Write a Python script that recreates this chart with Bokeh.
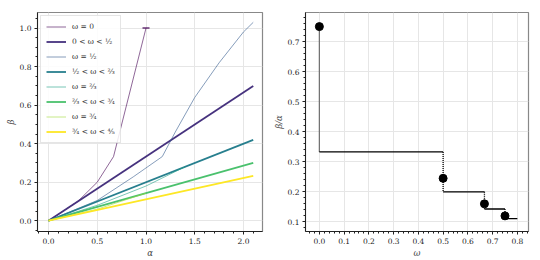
import numpy as np
from bokeh.plotting import figure
from bokeh.layouts import row
from bokeh.models import FixedTicker, Legend, LegendItem, Range1d, NumeralTickFormatter
from bokeh.embed import file_html
from bokeh.resources import INLINE

# ---------------- data (left panel) ----------------
alpha_span = [0.0, 2.1]
beta_w_0_half = [0.0, 0.70]      # 0 < w < 1/2
beta_w_half_23 = [0.0, 0.42]     # 1/2 < w < 2/3
beta_w_23_34 = [0.0, 0.30]       # 2/3 < w < 3/4
beta_w_34_45 = [0.0, 0.233]      # 3/4 < w < 4/5

w0_alpha = [0.0, 0.3, 0.5, 0.667, 1.0]
w0_beta = [0.0, 0.1, 0.2, 0.333, 1.0]
w12_alpha = [0.0, 0.5, 0.87, 1.167, 1.3, 1.5, 1.75, 2.0, 2.1]
w12_beta = [0.0, 0.105, 0.228, 0.333, 0.46, 0.64, 0.82, 0.98, 1.03]
w23_alpha = [0.0, 0.5, 1.0, 1.4]
w23_beta = [0.0, 0.08, 0.18, 0.28]
w34_alpha = [0.0, 0.5, 1.0]
w34_beta = [0.0, 0.06, 0.143]

labels = ["ω = 0", "0 < ω < ½", "ω = ½", "½ < ω < ⅔",
          "ω = ⅔", "⅔ < ω < ¾", "ω = ¾", "¾ < ω < ⅘"]
colors = ["#440154", "#46327e", "#365c8d", "#277f8e",
          "#1fa187", "#4ac16d", "#a0da39", "#fde725"]

# ---------------- data (right panel) ----------------
seg_w0 = [0.0, 0.5, 0.667, 0.75]
seg_w1 = [0.5, 0.667, 0.75, 0.8]
seg_ratio = [0.333, 0.2, 0.143, 0.111]
pt_w = [0.0, 0.5, 0.667, 0.75]
pt_ratio = [0.75, 0.245, 0.16, 0.12]

FONT = "DejaVu Serif"


def style(p, xt, xminor, yt, yminor):
    p.xaxis.ticker = FixedTicker(ticks=xt, minor_ticks=xminor)
    p.yaxis.ticker = FixedTicker(ticks=yt, minor_ticks=yminor)
    for ax in p.axis:
        ax.formatter = NumeralTickFormatter(format="0.0")
        ax.major_label_text_font = FONT
        ax.major_label_text_font_size = "7.5px"
        ax.major_label_text_color = "#222"
        ax.major_tick_in = 0
        ax.major_tick_out = 3
        ax.minor_tick_in = 0
        ax.minor_tick_out = 2
        ax.axis_line_color = "#222"
        ax.major_tick_line_color = "#222"
        ax.minor_tick_line_color = "#222"
        ax.axis_label_text_font = FONT
        ax.axis_label_text_font_style = "italic"
        ax.axis_label_text_font_size = "8.5px"
        ax.axis_label_text_color = "#444"
        ax.axis_label_standoff = 1
        ax.major_label_standoff = 3
    p.grid.grid_line_color = "#e6e6e6"
    p.grid.grid_line_width = 1
    p.outline_line_color = "#888888"
    p.outline_line_width = 1.2
    p.background_fill_color = "white"
    p.border_fill_color = "white"


# ---------------- left figure ----------------
p1 = figure(width=270, height=260, output_backend="svg", toolbar_location=None,
            x_range=Range1d(-0.113, 2.195), y_range=Range1d(-0.056, 1.081),
            min_border_left=37, min_border_right=8, min_border_top=12, min_border_bottom=24)
p1.xaxis.axis_label = "α"
p1.yaxis.axis_label = "β"
style(p1, [0, 0.5, 1.0, 1.5, 2.0], [round(-0.1 + 0.1 * i, 2) for i in range(24)],
      [0, 0.2, 0.4, 0.6, 0.8, 1.0], [round(-0.05 + 0.05 * i, 2) for i in range(24)])

thin_a = 0.6
r0 = p1.line(w0_alpha, w0_beta, line_color=colors[0], line_alpha=thin_a, line_width=1)
cap = p1.dash([w0_alpha[-1]], [w0_beta[-1]], size=7, line_color=colors[0], line_alpha=0.8, line_width=1.5)
r1 = p1.line(alpha_span, beta_w_0_half, line_color=colors[1], line_width=1.8)
r2 = p1.line(w12_alpha, w12_beta, line_color=colors[2], line_alpha=thin_a, line_width=1)
r3 = p1.line(alpha_span, beta_w_half_23, line_color=colors[3], line_width=1.8)
r4 = p1.line(w23_alpha, w23_beta, line_color=colors[4], line_alpha=thin_a, line_width=1)
r5 = p1.line(alpha_span, beta_w_23_34, line_color=colors[5], line_width=1.8)
r6 = p1.line(w34_alpha, w34_beta, line_color=colors[6], line_alpha=thin_a, line_width=1)
r7 = p1.line(alpha_span, beta_w_34_45, line_color=colors[7], line_width=1.8)

rs = [r0, r1, r2, r3, r4, r5, r6, r7]
legend = Legend(items=[LegendItem(label=l, renderers=[r]) for l, r in zip(labels, rs)],
                location="top_left")
legend.label_text_font = FONT
legend.label_text_font_size = "7.5px"
legend.label_text_color = "#333"
legend.label_height = 11
legend.glyph_height = 11
legend.glyph_width = 20
legend.spacing = 4
legend.padding = 5
legend.margin = 3
legend.label_standoff = 6
legend.border_line_color = "#cccccc"
legend.background_fill_alpha = 0.85
p1.add_layout(legend)

# ---------------- right figure ----------------
p2 = figure(width=270, height=260, output_backend="svg", toolbar_location=None,
            x_range=Range1d(-0.056, 0.845), y_range=Range1d(0.068, 0.797),
            min_border_left=32, min_border_right=12, min_border_top=12, min_border_bottom=24)
p2.xaxis.axis_label = "ω"
p2.yaxis.axis_label = "β/α"
style(p2, [round(0.1 * i, 1) for i in range(9)], [round(-0.04 + 0.02 * i, 2) for i in range(47)],
      [round(0.1 + 0.1 * i, 1) for i in range(7)], [round(0.06 + 0.02 * i, 2) for i in range(38)])

v_top = [pt_ratio[0]] + seg_ratio[:-1]
v_bot = seg_ratio
p2.segment(x0=pt_w, y0=v_top, x1=pt_w, y1=v_bot, line_color="black",
           line_dash="1 1", line_width=1.3)
p2.segment(x0=seg_w0, y0=seg_ratio, x1=seg_w1, y1=seg_ratio, line_color="black", line_width=1.4)
p2.scatter(pt_w, pt_ratio, size=8, fill_color="black", line_color="black")

layout = row(p1, p2, spacing=0)
open("out.html", "w").write(file_html(layout, INLINE))
